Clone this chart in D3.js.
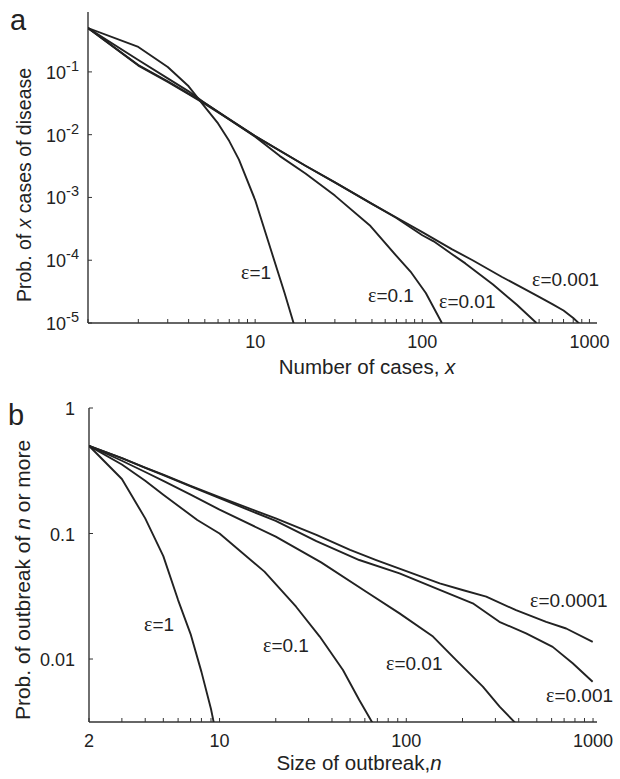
<!DOCTYPE html>
<html><head><meta charset="utf-8">
<script src="https://cdn.jsdelivr.net/npm/d3@7"></script>
<style>
body{margin:0;background:#fff;}
svg text{font-family:"Liberation Sans",Arial,Helvetica,sans-serif;fill:#222;}
</style></head>
<body><svg id="c" width="620" height="779"></svg>
<script>
// ---------- Panel a: probability of x cases ----------
const aEps1X = [1,2,3,4,5,6,7,8,10,12.6,15,17.2];
const aEps1Y = [0.5,0.25,0.12,0.059,0.0278,0.0151,0.0079,0.0040,9.1e-4,1.3e-4,3.0e-5,8.9e-6];
const aEps01X = [1,2,3,4,5,7,10,14,20,30,49,70,85,105,131];
const aEps01Y = [0.5,0.155,0.079,0.049,0.032,0.0174,0.0093,0.0046,0.0024,0.00107,3.5e-4,1.17e-4,6.6e-5,3.0e-5,1.0e-5];
const aEps001X = [1,2,3,4,5,7,10,20,30,50,70,100,117,150,181,265,368,482];
const aEps001Y = [0.5,0.129,0.071,0.045,0.032,0.0178,0.0095,0.0032,0.00174,7.9e-4,4.7e-4,2.5e-4,2.0e-4,1.26e-4,8.9e-5,4.1e-5,1.95e-5,1.0e-5];
const aEps0001X = [1,2,3,4,5,7,10,20,30,50,70,100,150,200,300,400,500,600,700,800,880];
const aEps0001Y = [0.5,0.126,0.069,0.044,0.031,0.0174,0.0095,0.0032,0.00174,7.9e-4,4.8e-4,2.8e-4,1.5e-4,1.0e-4,5.4e-5,3.6e-5,2.6e-5,2.0e-5,1.58e-5,1.2e-5,9.5e-6];
const aLabels = ["\u03b5=1","\u03b5=0.1","\u03b5=0.01","\u03b5=0.001"];
const aXTicks = [10,100,1000];
const aYTicks = [1e-1,1e-2,1e-3,1e-4,1e-5];
const aYTickExp = ["-1","-2","-3","-4","-5"];

// ---------- Panel b: probability of outbreak of n or more ----------
const bEps1X = [2,3,4,5,6,7,8,9,9.6];
const bEps1Y = [0.5,0.272,0.132,0.066,0.0295,0.0158,0.0079,0.0040,0.0025];
const bEps01X = [2,3,4,5,7.6,10,17.4,25.7,34.4,45.8,56,66,70];
const bEps01Y = [0.5,0.355,0.263,0.204,0.128,0.100,0.0497,0.0261,0.0151,0.00817,0.00471,0.00309,0.0025];
const bEps001X = [2,3,4,5,7,10,20,35,61,92,139,185,257,316,384,400];
const bEps001Y = [0.5,0.38,0.309,0.263,0.204,0.155,0.0944,0.0589,0.0344,0.0231,0.0151,0.0098,0.00603,0.00417,0.00309,0.00275];
const bEps0001X = [2,3,4,5,7,10,20,33,56,92,151,227,315,438,608,778,995];
const bEps0001Y = [0.5,0.398,0.333,0.292,0.237,0.191,0.126,0.0871,0.0615,0.0482,0.0355,0.0278,0.0198,0.0160,0.0125,0.00925,0.00659];
const bEps00001X = [2,3,4,5,7,10,20,33,50,69,100,151,200,268,387,561,718,996];
const bEps00001Y = [0.5,0.398,0.335,0.295,0.240,0.195,0.132,0.0977,0.0741,0.0615,0.0501,0.0401,0.0355,0.0314,0.0245,0.0198,0.0175,0.0137];
const bLabels = ["\u03b5=1","\u03b5=0.1","\u03b5=0.01","\u03b5=0.001","\u03b5=0.0001"];
const bXTicks = [2,10,100,1000];
const bYTicks = [1,0.1,0.01];
const bYTickLabels = ["1","0.1","0.01"];

const svg = d3.select("#c");
const ink = "#222";

function zip(xs, ys){ return xs.map((x,i)=>[x, ys[i]]); }

function minorTicks(lo, hi){
  const t=[];
  for(let d=Math.pow(10,Math.floor(Math.log10(lo))); d<=hi; d*=10)
    for(let k=1;k<=9;k++){ const v=k*d; if(v>=lo && v<=hi) t.push(v); }
  return t;
}

function panel(cfg){
  const g = svg.append("g");
  const x = cfg.x, y = cfg.y;
  const [x0,x1] = x.range(), [y0,y1] = y.range();
  g.append("clipPath").attr("id",cfg.id).append("rect")
    .attr("x",x0).attr("y",y1).attr("width",x1-x0).attr("height",y0-y1);
  g.append("line").attr("x1",x0).attr("x2",x1).attr("y1",y0).attr("y2",y0)
    .attr("stroke","#333").attr("stroke-width",1.4);
  g.append("line").attr("x1",x0).attr("x2",x0).attr("y1",y0).attr("y2",y1)
    .attr("stroke","#333").attr("stroke-width",1.4);
  const mt = minorTicks(x.domain()[0], x.domain()[1]);
  g.selectAll(".xt").data(mt).enter().append("line")
    .attr("x1",d=>x(d)).attr("x2",d=>x(d)).attr("y1",y0).attr("y2",y0-4)
    .attr("stroke","#333").attr("stroke-width",1);
  g.selectAll(".yt").data(cfg.yTicks).enter().append("line")
    .attr("x1",x0).attr("x2",x0+4).attr("y1",d=>y(d)).attr("y2",d=>y(d))
    .attr("stroke","#333").attr("stroke-width",1);
  g.selectAll(".xl").data(cfg.xTicks).enter().append("text")
    .attr("x",d=>x(d)).attr("y",y0+25).attr("text-anchor","middle")
    .attr("font-size",18).text(d=>d);
  cfg.yTicks.forEach((d,i)=>{
    const t = g.append("text").attr("x",cfg.yLabelX).attr("y",y(d)+7)
      .attr("text-anchor","end").attr("font-size",18);
    if(cfg.yExp){
      t.append("tspan").text("10");
      t.append("tspan").attr("font-size",14.5).attr("dy",-8).text(cfg.yExp[i]);
    } else t.text(cfg.yLabels[i]);
  });
  const line = d3.line().x(d=>x(d[0])).y(d=>y(d[1]));
  g.append("g").attr("clip-path",`url(#${cfg.id})`).selectAll("path")
    .data(cfg.series).enter().append("path")
    .attr("d",d=>line(d)).attr("fill","none").attr("stroke",ink)
    .attr("stroke-width",1.9).attr("stroke-linejoin","round");
  cfg.labels.forEach((l,i)=>{
    const p = cfg.labelPos[i];
    const t = g.append("text").attr("x",p[0]).attr("y",p[1]).attr("font-size",19);
    t.append("tspan").attr("font-family","'Liberation Serif','Times New Roman',serif").attr("font-size",20).text(l[0]);
    t.append("tspan").text(l.slice(1));
  });
  const xt = g.append("text").attr("x",cfg.xTitlePos[0]).attr("y",cfg.xTitlePos[1])
    .attr("text-anchor","middle").attr("font-size",20.5);
  xt.append("tspan").text(cfg.xTitle[0]);
  xt.append("tspan").attr("font-style","italic").text(cfg.xTitle[1]);
  const yt = g.append("text").attr("transform",`translate(${cfg.yTitlePos[0]},${cfg.yTitlePos[1]}) rotate(-90)`)
    .attr("text-anchor","middle").attr("font-size",cfg.yTitleSize);
  yt.append("tspan").text(cfg.yTitle[0]);
  yt.append("tspan").attr("font-style","italic").text(cfg.yTitle[1]);
  yt.append("tspan").text(cfg.yTitle[2]);
  g.append("text").attr("x",cfg.letterPos[0]).attr("y",cfg.letterPos[1])
    .attr("font-size",29).text(cfg.letter);
}

panel({
  id:"clipA",
  x: d3.scaleLog().domain([1,1110]).range([88,597]),
  y: d3.scaleLog().domain([1e-5,0.9]).range([323,12]),
  xTicks:aXTicks, yTicks:aYTicks, yExp:aYTickExp, yLabelX:79,
  series:[zip(aEps1X,aEps1Y),zip(aEps01X,aEps01Y),zip(aEps001X,aEps001Y),zip(aEps0001X,aEps0001Y)],
  labels:aLabels, labelPos:[[241,279],[368,302],[439,308],[532,286]],
  xTitle:["Number of cases, ","x"], xTitlePos:[367,374],
  yTitle:["Prob. of ","x"," cases of disease"], yTitleSize:19.5, yTitlePos:[31,185],
  letter:"a", letterPos:[10,30]
});

panel({
  id:"clipB",
  x: d3.scaleLog().domain([2,1050]).range([89,597]),
  y: d3.scaleLog().domain([0.00315,1]).range([722,408]),
  xTicks:bXTicks, yTicks:bYTicks, yLabels:bYTickLabels, yLabelX:75,
  series:[zip(bEps1X,bEps1Y),zip(bEps01X,bEps01Y),zip(bEps001X,bEps001Y),zip(bEps0001X,bEps0001Y),zip(bEps00001X,bEps00001Y)],
  labels:bLabels, labelPos:[[144,631],[263,652],[386,670],[546,702],[530,607]],
  xTitle:["Size of outbreak,","n"], xTitlePos:[359,770],
  yTitle:["Prob. of outbreak of ","n"," or more"], yTitleSize:21, yTitlePos:[30,580],
  letter:"b", letterPos:[8,425]
});
</script></body></html>
